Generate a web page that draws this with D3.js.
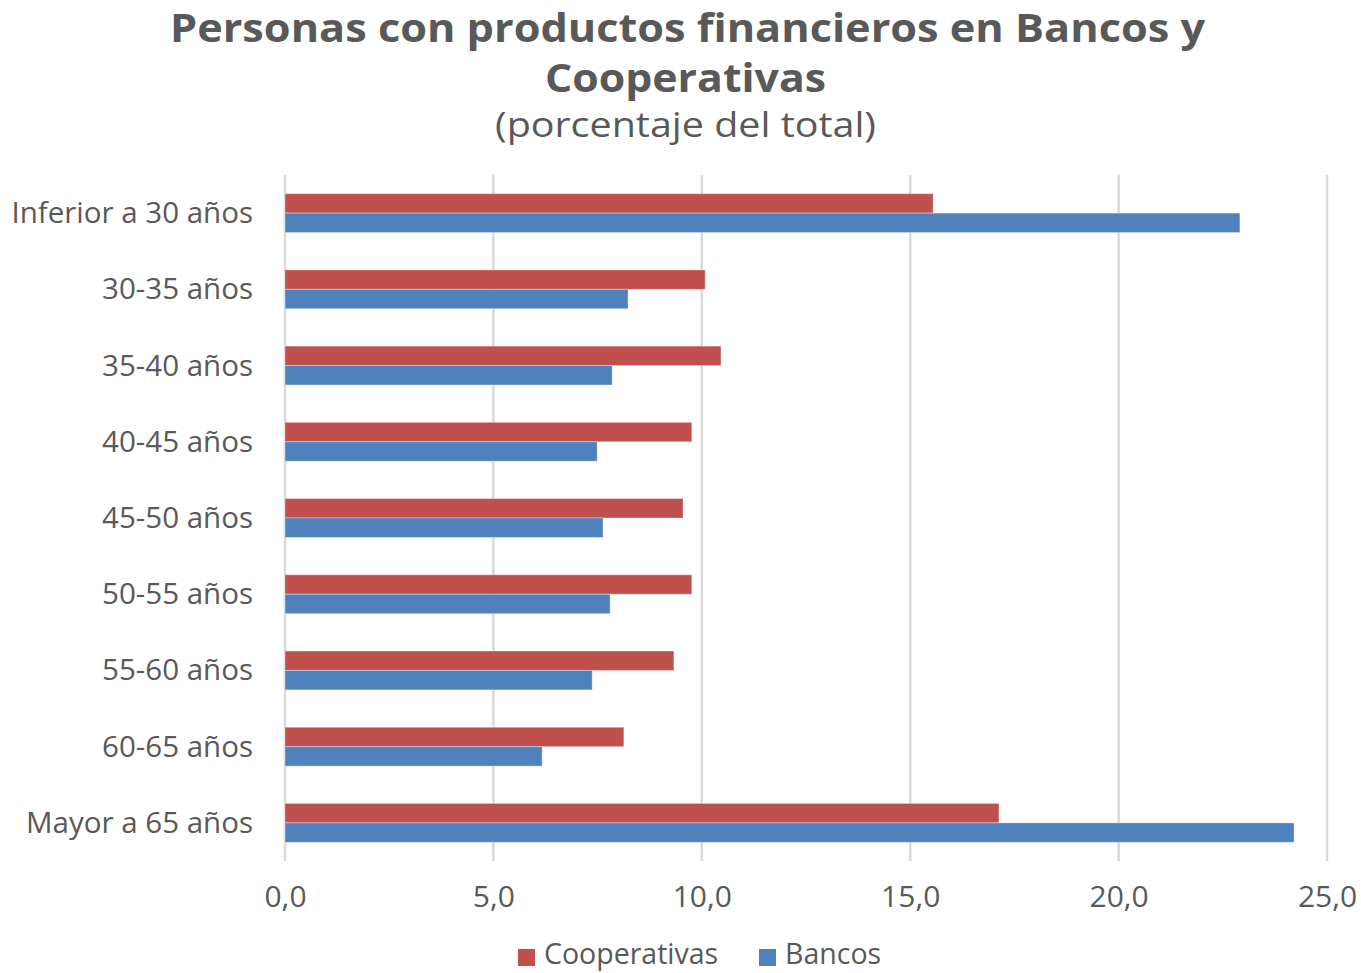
<!DOCTYPE html>
<html><head><meta charset="utf-8">
<script src="https://cdn.jsdelivr.net/npm/d3@7"></script>
<style>body{margin:0;background:#fff;} text{font-family:"Open Sans",sans-serif;}</style>
</head><body>
<svg id="chart" width="1361" height="973"></svg>
<script>
const categories = ["Inferior a 30 años","30-35 años","35-40 años","40-45 años","45-50 años","50-55 años","55-60 años","60-65 años","Mayor a 65 años"];
const seriesNames = ["Cooperativas","Bancos"];
const cooperativas = [15.55,10.08,10.46,9.76,9.55,9.76,9.33,8.13,17.13];
const bancos = [22.91,8.23,7.85,7.49,7.63,7.80,7.37,6.17,24.21];
const tickValues = [0,5,10,15,20,25];
const colors = {"Cooperativas":"#C0504D","Bancos":"#4F81BD"};

const svg = d3.select("#chart");
const textColor = "#595959";
const x = d3.scaleLinear().domain([0,25]).range([285,1327]);
const y = d3.scaleBand().domain(categories).range([175,861]).paddingInner(0.49).paddingOuter(0.245);
const y2 = d3.scaleBand().domain(seriesNames).range([0,y.bandwidth()]);

function fit(sel, w){ sel.attr("textLength", w).attr("lengthAdjust","spacingAndGlyphs"); }

// Titles
const t1 = svg.append("text").attr("x",687.5).attr("y",42).attr("text-anchor","middle")
  .attr("font-size",39).attr("font-weight","bold").attr("fill",textColor)
  .text("Personas con productos financieros en Bancos y");
fit(t1,1035);
const t2 = svg.append("text").attr("x",685.5).attr("y",92).attr("text-anchor","middle")
  .attr("font-size",39).attr("font-weight","bold").attr("fill",textColor).text("Cooperativas");
fit(t2,281);
const t3 = svg.append("text").attr("x",685.5).attr("y",137).attr("text-anchor","middle")
  .attr("font-size",34).attr("fill",textColor).text("(porcentaje del total)");
fit(t3,381);

// Gridlines
const xAxis = d3.axisBottom(x).tickValues(tickValues).tickSize(0)
  .tickFormat(d => d3.format(".1f")(d).replace(".",","));
const gx = svg.append("g");
gx.selectAll("line").data(tickValues).join("line")
  .attr("x1",d=>x(d)).attr("x2",d=>x(d)).attr("y1",175).attr("y2",861)
  .attr("stroke","#D9D9D9").attr("stroke-width",2.5);

const ga = svg.append("g").attr("transform","translate(0,907)").call(xAxis);
ga.select(".domain").remove();
ga.selectAll("text").attr("dy",0).attr("y",0).attr("font-size",30).attr("fill",textColor)
  .style("font-family","'Open Sans',sans-serif");

// Bars
const data = categories.map((c,i)=>({cat:c, vals:[{s:"Cooperativas",v:cooperativas[i]},{s:"Bancos",v:bancos[i]}]}));
const groups = svg.append("g").selectAll("g").data(data).join("g")
  .attr("transform",d=>`translate(0,${y(d.cat)})`);
groups.selectAll("rect").data(d=>d.vals).join("rect")
  .attr("x",x(0)).attr("y",d=>y2(d.s)).attr("width",d=>x(d.v)-x(0)).attr("height",y2.bandwidth())
  .attr("fill",d=>colors[d.s]).attr("stroke","rgba(255,255,255,0.35)").attr("stroke-width",1);

// Category labels
const yAxis = d3.axisLeft(y).tickSize(0).tickPadding(0);
const gy = svg.append("g").attr("transform","translate(253,0)").call(yAxis);
gy.select(".domain").remove();
gy.selectAll("text").attr("font-size",29.5).attr("fill",textColor).attr("dy","0.34em")
  .style("font-family","'Open Sans',sans-serif");

// Legend
const legend = [{s:"Cooperativas",x:518},{s:"Bancos",x:759}];
const lg = svg.append("g").selectAll("g").data(legend).join("g").attr("transform",d=>`translate(${d.x},0)`);
lg.append("rect").attr("x",0).attr("y",949).attr("width",17).attr("height",17).attr("fill",d=>colors[d.s]);
lg.append("text").attr("x",26).attr("y",964).attr("font-size",28.5).attr("fill",textColor).text(d=>d.s);
</script>
</body></html>
